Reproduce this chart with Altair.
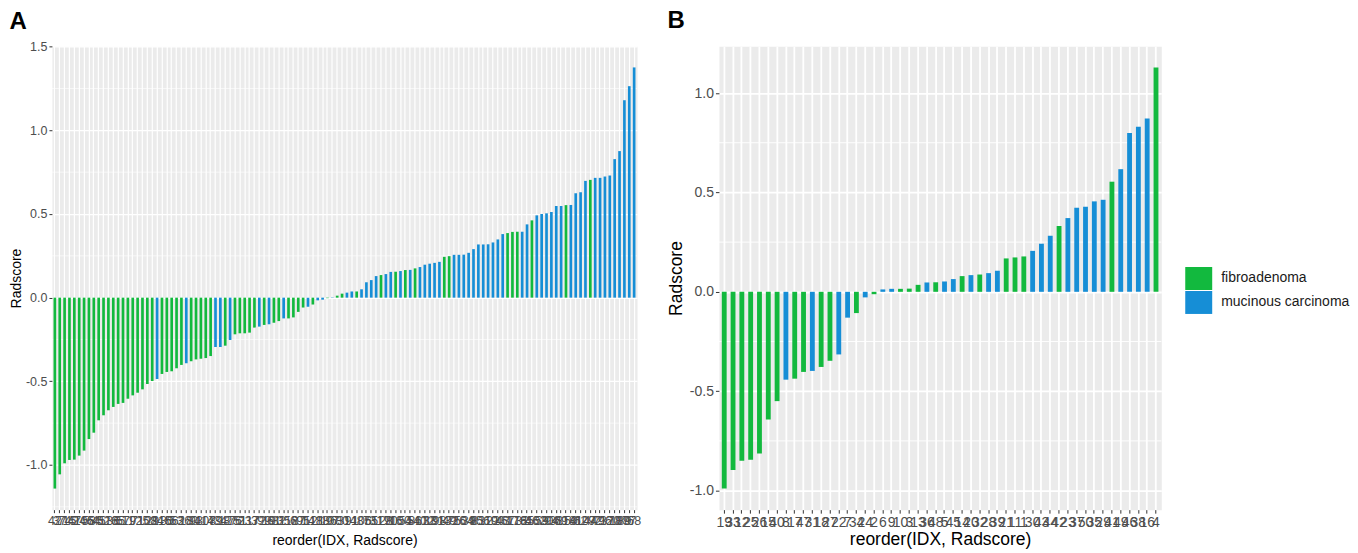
import altair as alt
import pandas as pd

CATS = ["fibroadenoma", "mucinous carcinoma"]
COLORS = ["#12B93E", "#168ED6"]
GROUP_CODE = {"F": CATS[0], "M": CATS[1]}

# ---------------- Panel A (training set) ----------------
A_IDX = [42, 37, 74, 15, 47, 24, 105, 58, 64, 45,
         52, 113, 36, 65, 57, 11, 9, 71, 25, 102,
         29, 84, 115, 30, 66, 53, 2, 18, 60, 93,
         41, 108, 4, 79, 34, 12, 87, 76, 51, 23,
         117, 3, 72, 99, 19, 61, 82, 35, 118, 6,
         27, 95, 14, 111, 21, 88, 10, 97, 63, 80,
         1, 91, 48, 106, 7, 55, 31, 119, 28, 70,
         16, 100, 54, 5, 86, 40, 112, 33, 101, 98,
         13, 49, 75, 26, 104, 39, 8, 83, 56, 110,
         22, 90, 43, 67, 17, 116, 32, 85, 46, 103,
         59, 20, 94, 38, 69, 114, 50, 81, 62, 107,
         44, 92, 73, 96, 120, 78, 109, 89, 77, 68]

A_VAL = [-1.141, -1.056, -0.990, -0.970, -0.968, -0.944, -0.914, -0.845, -0.807, -0.733,
         -0.703, -0.673, -0.653, -0.635, -0.629, -0.604, -0.584, -0.568, -0.548, -0.516,
         -0.498, -0.486, -0.456, -0.444, -0.440, -0.422, -0.402, -0.392, -0.380, -0.369,
         -0.365, -0.361, -0.349, -0.295, -0.295, -0.287, -0.253, -0.219, -0.213, -0.213,
         -0.209, -0.179, -0.173, -0.163, -0.159, -0.150, -0.140, -0.124, -0.124, -0.118,
         -0.085, -0.059, -0.055, -0.041, -0.016, -0.012, -0.003, 0.002, 0.012, 0.024,
         0.030, 0.037, 0.037, 0.050, 0.092, 0.105, 0.129, 0.135, 0.141, 0.154,
         0.155, 0.159, 0.165, 0.166, 0.175, 0.183, 0.197, 0.203, 0.208, 0.214,
         0.244, 0.248, 0.256, 0.256, 0.257, 0.268, 0.290, 0.318, 0.318, 0.319,
         0.330, 0.348, 0.380, 0.386, 0.393, 0.394, 0.394, 0.438, 0.462, 0.492,
         0.500, 0.504, 0.512, 0.548, 0.548, 0.553, 0.554, 0.624, 0.630, 0.698,
         0.704, 0.716, 0.716, 0.724, 0.730, 0.828, 0.876, 1.180, 1.264, 1.376]

A_GRP = list("FFFFFFFFFF"
             "FFFFFFFFFF"
             "FMFFFFFMFF"
             "FFFMMFMFFF"
             "FFMFMFFMFF"
             "FFMFMMFMFF"
             "MMFMMMMFMM"
             "FMFMFMMMMM"
             "FFMMMMMMMM"
             "MMMFFFMMFM"
             "MMMMMFMMMM"
             "FMMMMMMMMM")

A_TICKS = [-1.0, -0.5, 0.0, 0.5, 1.0, 1.5]
A_MINOR = [-1.25, -0.75, -0.25, 0.25, 0.75, 1.25]
A_DOMAIN = [-1.267, 1.502]

# ---------------- Panel B (validation set) ----------------
B_IDX = [19, 33, 12, 25, 26, 15, 40, 8, 17, 47,
         31, 18, 27, 22, 7, 34, 24, 2, 6, 9,
         10, 3, 13, 36, 48, 5, 45, 14, 20, 32,
         28, 39, 21, 11, 1, 30, 43, 44, 42, 23,
         37, 50, 35, 29, 41, 49, 46, 38, 16, 4]

B_VAL = [-0.990, -0.897, -0.850, -0.845, -0.813, -0.642, -0.550, -0.442, -0.437, -0.403,
         -0.398, -0.378, -0.347, -0.315, -0.130, -0.107, -0.028, -0.012, 0.012, 0.015,
         0.015, 0.016, 0.035, 0.047, 0.048, 0.052, 0.064, 0.079, 0.084, 0.087,
         0.094, 0.106, 0.168, 0.173, 0.178, 0.206, 0.242, 0.282, 0.331, 0.371,
         0.423, 0.428, 0.455, 0.463, 0.554, 0.617, 0.799, 0.831, 0.872, 1.129]

B_GRP = list("FFFFFFFMFF"
             "MFFMMFMFMM"
             "FFFMFMMFMF"
             "MMFFFMMMFM"
             "MMMMFMMMMF")

B_TICKS = [-1.0, -0.5, 0.0, 0.5, 1.0]
B_MINOR = [-0.75, -0.25, 0.25, 0.75]
B_DOMAIN = [-1.096, 1.235]

LABEL_EXPR = "replace(format(datum.value, '.1f'), '\u2212', '-')"

LEGEND = alt.Legend(
    title=None, orient="none", legendX=1137, legendY=221,
    symbolType="M-1.174,-1H1.174V1H-1.174Z", symbolSize=529,
    symbolStrokeWidth=0, symbolOpacity=1,
    labelFontSize=14, labelColor="#1A1A1A", labelOffset=11,
    rowPadding=1, padding=0,
)


def panel(idx, val, grp, letter, width, height, domain, ticks, minor,
          tick_fs, title_fs, tick_len, grid_w, y_title_pad, x_title_pad, title_offset):
    df = pd.DataFrame({
        "IDX": [str(i) for i in idx],
        "Radscore": val,
        "Group": [GROUP_CODE[g] for g in grp],
    })
    ydef = alt.Y(
        "Radscore:Q",
        scale=alt.Scale(domain=domain, nice=False, zero=False),
        axis=alt.Axis(
            values=ticks, labelExpr=LABEL_EXPR, grid=True, gridColor="white",
            gridWidth=grid_w, domain=False, tickColor="#333333", tickSize=tick_len,
            labelColor="#4D4D4D", labelFontSize=tick_fs, labelPadding=2,
            title="Radscore", titleFontSize=title_fs, titleFontWeight="normal",
            titleColor="black", titlePadding=y_title_pad,
        ),
    )
    xdef = alt.X(
        "IDX:N", sort=None,
        scale=alt.Scale(paddingInner=0.45, paddingOuter=0.325),
        axis=alt.Axis(
            title="reorder(IDX, Radscore)", labelAngle=0, labelOverlap=False,
            grid=True, gridColor="white", gridWidth=grid_w, bandPosition=0.5,
            domain=False, tickColor="#333333", tickSize=tick_len,
            labelColor="#4D4D4D", labelFontSize=tick_fs, labelPadding=2,
            titleFontSize=title_fs, titleFontWeight="normal", titleColor="black",
            titlePadding=x_title_pad,
        ),
    )
    minor_df = pd.DataFrame({"Radscore": minor})
    rules = alt.Chart(minor_df).mark_rule(color="white", strokeWidth=grid_w * 0.5).encode(y=ydef)
    bars = alt.Chart(df).mark_bar().encode(
        x=xdef, y=ydef,
        color=alt.Color("Group:N", scale=alt.Scale(domain=CATS, range=COLORS), legend=LEGEND),
    )
    return alt.layer(rules, bars).properties(
        width=width, height=height,
        title=alt.TitleParams(letter, anchor="start", frame="bounds", fontSize=24,
                              fontWeight="bold", color="black", offset=title_offset),
    )


chart_a = panel(A_IDX, A_VAL, A_GRP, "A", 586, 464, A_DOMAIN, A_TICKS, A_MINOR,
                12.5, 14, 3, 1.2, 2, 6, 6.5)
chart_b = panel(B_IDX, B_VAL, B_GRP, "B", 443, 464, B_DOMAIN, B_TICKS, B_MINOR,
                14, 17.5, 3.5, 1.8, 4, 1, 13)

chart = alt.hconcat(chart_a, chart_b, spacing=24, padding=0).resolve_scale(
    x="independent", y="independent", color="shared"
).configure(font="Liberation Sans").configure_view(fill="#EBEBEB", stroke="transparent")

chart.save("out.html", embed_options={"renderer": "svg", "actions": False})
